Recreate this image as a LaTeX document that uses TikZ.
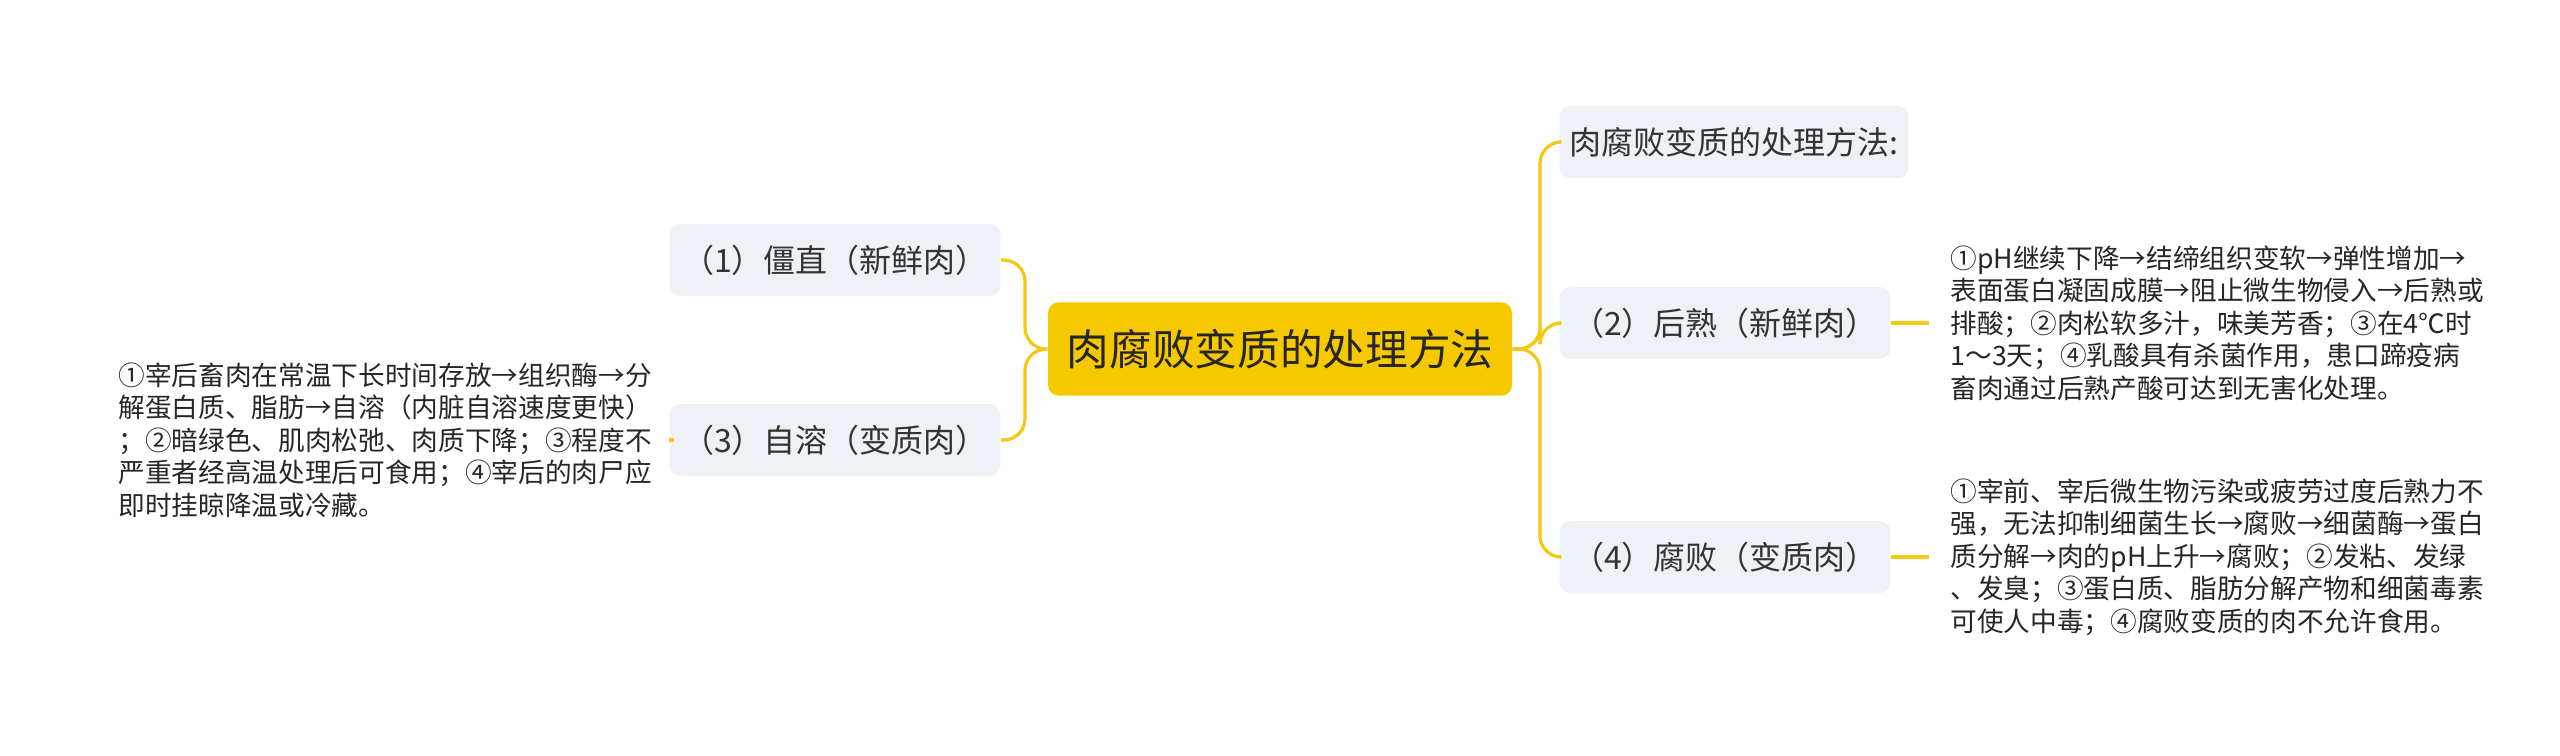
\documentclass[tikz,border=0pt]{standalone}
\usepackage{fontspec}
\setmainfont{Noto Sans CJK SC}
\usetikzlibrary{positioning}
\definecolor{gold}{HTML}{F5C800}
\definecolor{branch}{HTML}{F2C811}
\definecolor{boxgray}{HTML}{EEF1F5}
\begin{document}
\begin{tikzpicture}[
    x=0.375pt, y=-0.375pt,
    % Styles
    root/.style={fill=gold, rounded corners=4pt, minimum width=174pt, minimum height=35pt, font=\fontsize{16}{18}\selectfont, text=black!85},
    topic/.style={fill=boxgray, rounded corners=4pt, minimum height=27pt, font=\fontsize{12}{14}\selectfont, text=black!80},
    detail/.style={align=left, font=\fontsize{10}{12.2}\selectfont, text=black!85, inner sep=0pt},
    link/.style={draw=branch, line width=1.2pt, rounded corners=8pt},
]
\useasboundingbox (0,0) rectangle (2560,755);

% Central node
\node[root] (center) at (1280,349) {肉腐败变质的处理方法};

% Left topics
\node[topic, minimum width=124pt] (stiff) at (835,260) {（1）僵直（新鲜肉）};
\node[topic, minimum width=124pt] (autolysis) at (835,440) {（3）自溶（变质肉）};

% Right topics
\node[topic, minimum width=131pt] (method) at (1734,142) {肉腐败变质的处理方法:};
\node[topic, minimum width=124pt] (ripen) at (1725,323) {（2）后熟（新鲜肉）};
\node[topic, minimum width=124pt] (decay) at (1725,557) {（4）腐败（变质肉）};

% Details
\node[detail, anchor=west] (autolysisText) at (118,440) {①宰后畜肉在常温下长时间存放→组织酶→分\\解蛋白质、脂肪→自溶（内脏自溶速度更快）\\；②暗绿色、肌肉松弛、肉质下降；③程度不\\严重者经高温处理后可食用；④宰后的肉尸应\\即时挂晾降温或冷藏。};
\node[detail, anchor=west] (ripenText) at (1950,323) {①pH继续下降→结缔组织变软→弹性增加→\\表面蛋白凝固成膜→阻止微生物侵入→后熟或\\排酸；②肉松软多汁，味美芳香；③在4℃时\\1～3天；④乳酸具有杀菌作用，患口蹄疫病\\畜肉通过后熟产酸可达到无害化处理。};
\node[detail, anchor=west] (decayText) at (1950,557) {①宰前、宰后微生物污染或疲劳过度后熟力不\\强，无法抑制细菌生长→腐败→细菌酶→蛋白\\质分解→肉的pH上升→腐败；②发粘、发绿\\、发臭；③蛋白质、脂肪分解产物和细菌毒素\\可使人中毒；④腐败变质的肉不允许食用。};

% Connectors
\coordinate (rightFork) at (1540,349);
\coordinate (leftFork) at (1025,349);
\foreach \t in {method, ripen, decay}
    \draw[link] (center.east) -- (rightFork) |- (\t.west);
\foreach \t in {stiff, autolysis}
    \draw[link] (center.west) -- (leftFork) |- (\t.east);
\draw[link] (ripen.east) -- ([xshift=-8pt]ripenText.west);
\draw[link] (decay.east) -- ([xshift=-8pt]decayText.west);
\draw[link] (autolysis.west) -- ([xshift=8pt]autolysisText.east);
\end{tikzpicture}
\end{document}
